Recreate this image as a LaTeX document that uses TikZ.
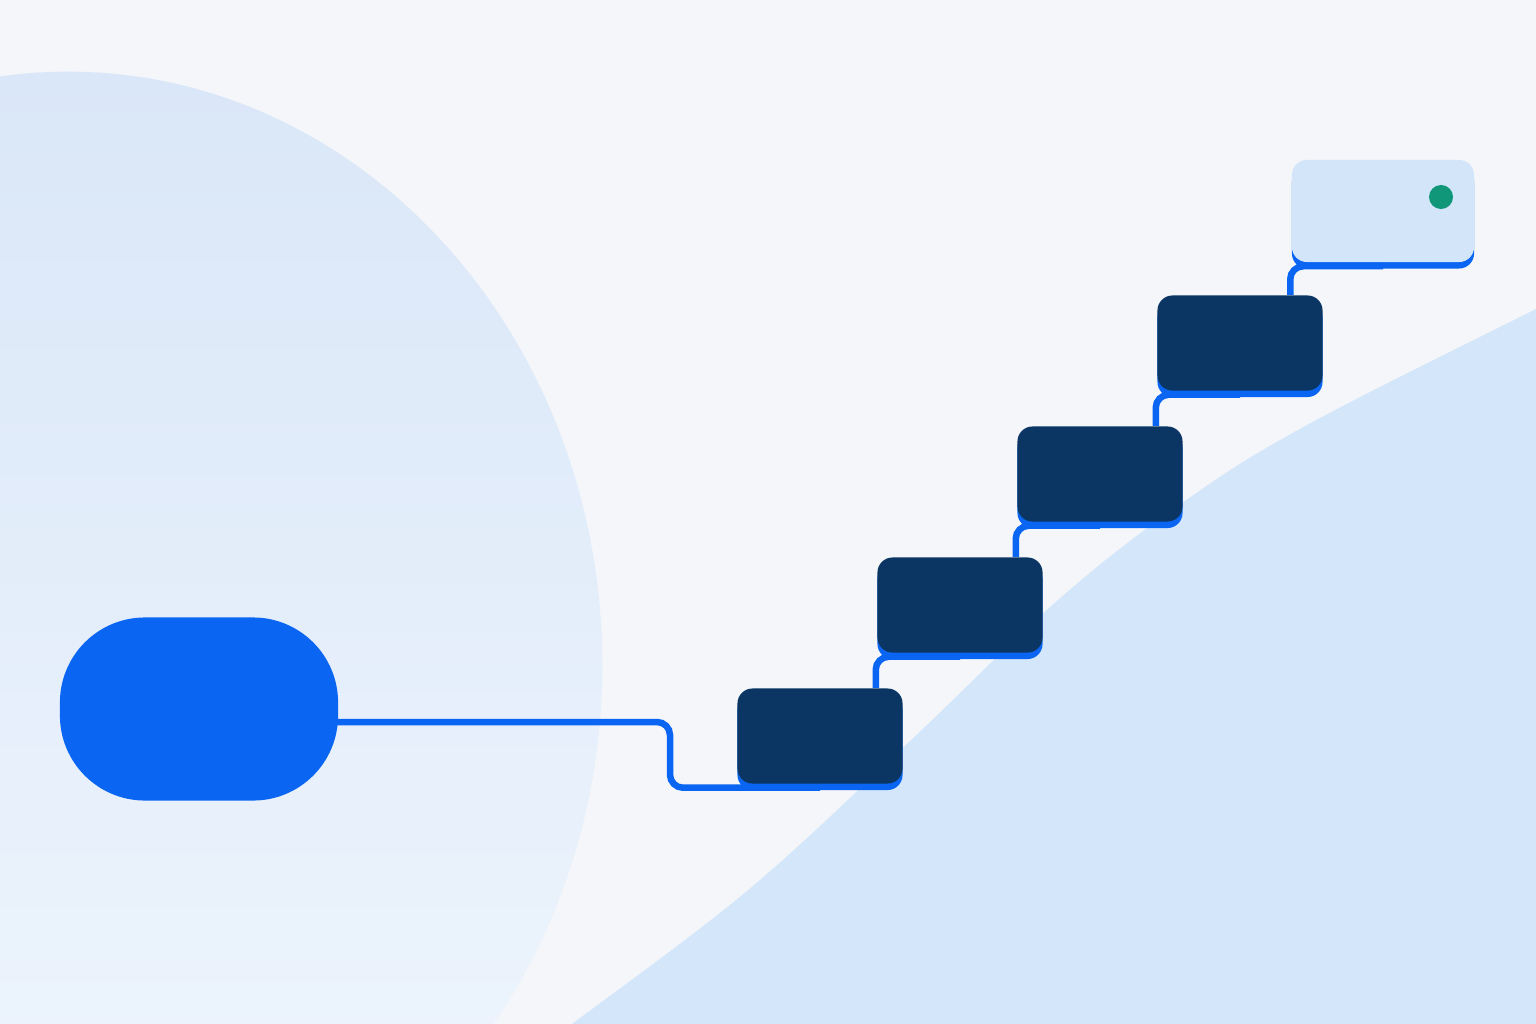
\documentclass[tikz,border=0pt]{standalone}
\usepackage[dvipsnames]{xcolor}
\usetikzlibrary{calc, shadows}

\definecolor{paper}{HTML}{F4F6FA}
\definecolor{blob}{HTML}{DAE7F8}
\definecolor{blobfade}{HTML}{F0F6FD}
\definecolor{hill}{HTML}{D4E6F9}
\definecolor{wireblue}{HTML}{0A66F2}
\definecolor{navy}{HTML}{0B3563}
\definecolor{goalbox}{HTML}{D3E5F9}
\definecolor{goaldot}{HTML}{10977A}

\tikzset{
  wire/.style={wireblue, line width=1.85pt, rounded corners=0.13cm},
  startpill/.style={fill=wireblue, rounded corners=0.85cm, minimum width=2.78cm,
    minimum height=1.83cm, inner sep=0pt},
  stepbox/.style={fill=navy, rounded corners=0.15cm, minimum width=1.65cm,
    minimum height=0.95cm, inner sep=0pt,
    drop shadow={shadow xshift=0pt, shadow yshift=-0.065cm, fill=wireblue, opacity=1}},
  goal/.style={stepbox, fill=goalbox, minimum width=1.82cm, minimum height=1.02cm},
  dot/.style={circle, fill=goaldot, minimum size=0.24cm, inner sep=0pt}
}

\begin{document}
\begin{tikzpicture}[x=0.01cm, y=-0.01cm]
\useasboundingbox (0,0) rectangle (1536,1024);
\clip (0,0) rectangle (1536,1024);
%---------------------------------------------------
\fill[paper] (0,0) rectangle (1536,1024);
\shade[top color=blob, bottom color=blobfade] (68,665) ellipse [x radius=5.34cm, y radius=5.93cm];
\fill[hill] plot[smooth, tension=0.6] coordinates {(559,1034) (572,1024) (747,891) (908,743)
  (1058,600) (1182,503) (1307,425) (1536,309) (1560,297)} -- (1560,1040) -- cycle;
%---------------------------------------------------
\node[startpill] (pill) at (199,709) {};
\node[stepbox] (b1) at (820,736) {};
\node[stepbox] (b2) at (960,605) {};
\node[stepbox] (b3) at (1100,474) {};
\node[stepbox] (b4) at (1240,343) {};
\node[goal] (goal) at (1383,211) {};
\node[dot] (d) at (1441,197) {};
%---------------------------------------------------
\coordinate (kink) at (670,722);
\coordinate (l1) at ($(b1.south)+(0,3.5)$);
\draw[wire] ($(pill.east)+(-10,13)$) -- (kink) -- (kink |- l1) -- (l1);
\foreach \lo/\hi in {b1/b2, b2/b3, b3/b4, b4/goal}{
  \coordinate (r) at ($(\hi.south west)+(-1,3.5)$);
  \draw[wire] (r |- \lo.north) -- (r) -- (r -| \hi.south);
}
\end{tikzpicture}
\end{document}
